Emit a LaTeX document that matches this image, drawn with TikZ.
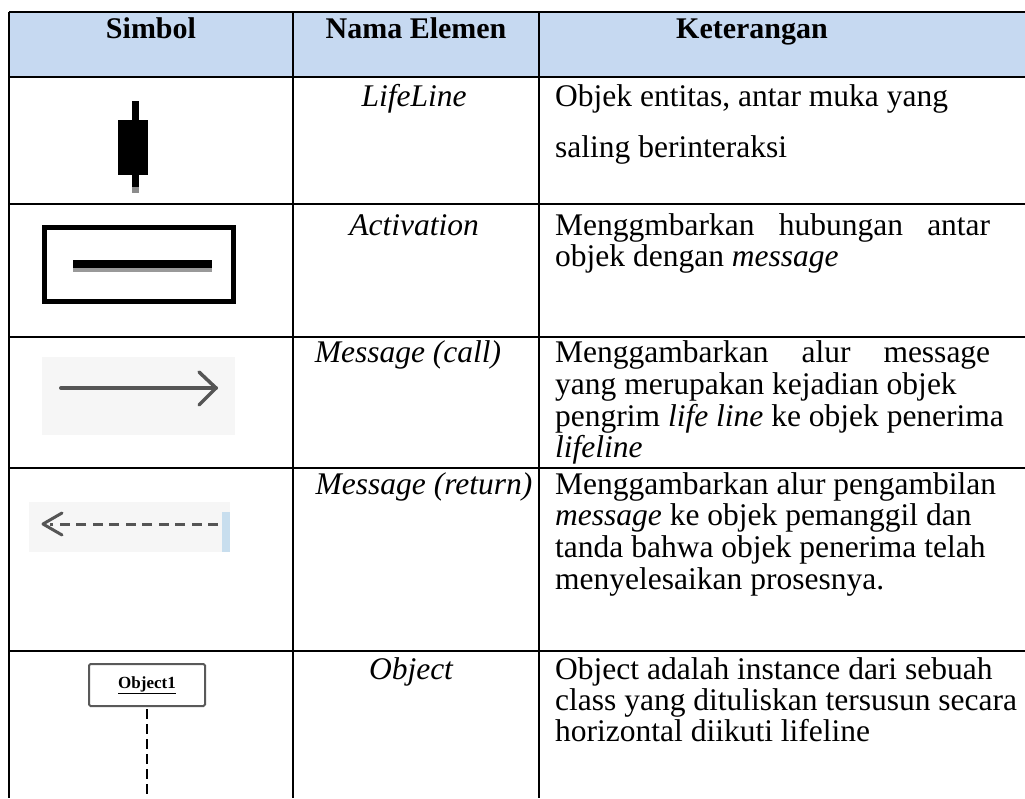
\documentclass[tikz,border=0pt]{standalone}
\usepackage{fontspec}
\setmainfont{Liberation Serif}
\usetikzlibrary{arrows.meta}

\definecolor{headblue}{RGB}{198,217,241}
\definecolor{icongrey}{RGB}{85,85,85}
\definecolor{iconbg}{RGB}{246,246,246}
\definecolor{stripblue}{RGB}{200,222,238}

\begin{document}
\begin{tikzpicture}[x=1pt,y=-1pt,
  rule/.style={line width=1.8pt,black},
  hdr/.style={font=\fontsize{30}{34}\selectfont\bfseries,anchor=base,inner sep=0pt},
  elname/.style={font=\fontsize{31.5}{32}\selectfont\itshape,anchor=base,inner sep=0pt},
  desc/.style={font=\fontsize{31.5}{32}\selectfont,anchor=base west,inner sep=0pt},
  iconline/.style={line width=4pt,icongrey,line cap=round}]
\useasboundingbox (0,0) rectangle (1025,798);

% header band
\fill[headblue] (9,12) rectangle (1025,77);

% table rules
\foreach \yy in {12,77,204,337,468,651}
  \draw[rule] (9,\yy) -- (1025,\yy);
\foreach \xx in {9,293,539}
  \draw[rule] (\xx,12) -- (\xx,798);

% header texts
\node[hdr] (hSym)  at (151,38) {Simbol};
\node[hdr] (hName) at (416,38) {Nama Elemen};
\node[hdr] (hDesc) at (752,38) {Keterangan};

% ---- LifeLine
\fill[black!45] (132,186) rectangle (139,193);
\fill[black] (132,101) rectangle (139,187);
\fill[black] (118,120) rectangle (148,175);
\node[elname] (n1) at (414,106) {LifeLine};
\node[desc] (d1a) at (555,106) {Objek entitas, antar muka yang};
\node[desc] (d1b) at (555,157) {saling berinteraksi};

% ---- Activation
\draw[line width=5pt] (44.5,227.5) rectangle (233.5,301.5);
\fill[black!40] (73,266) rectangle (212,272);
\fill[black] (73,260) rectangle (212,268);
\node[elname] (n2) at (414,235) {Activation};
\node[desc] (d2a) at (555,235) {\makebox[435pt][l]{Menggmbarkan\hfill hubungan\hfill antar}};
\node[desc] (d2b) at (555,266) {objek dengan \textit{message}};

% ---- Message (call)
\fill[iconbg] (42,357) rectangle (235,435);
\coordinate (c1) at (61,388);
\coordinate (c2) at (216,388);
\coordinate (c2a) at (199,372);
\coordinate (c2b) at (199,405);
\draw[iconline] (c1) -- (c2);
\draw[iconline,line width=3.5pt,line join=round] (c2a) -- (c2) -- (c2b);
\node[elname] (n3) at (408,362) {Message (call)};
\node[desc] (d3a) at (555,362) {\makebox[435pt][l]{Menggambarkan\hfill alur\hfill message}};
\node[desc] (d3b) at (555,394) {yang merupakan kejadian objek};
\node[desc] (d3c) at (555,426) {pengrim \textit{life line} ke objek penerima};
\node[desc] (d3d) at (555,457) {\textit{lifeline}};

% ---- Message (return)
\fill[iconbg] (29,502) rectangle (230,552);
\fill[stripblue] (222,512) rectangle (230,552);
\coordinate (r1) at (218,524);
\coordinate (r2) at (43,524);
\coordinate (r2a) at (62,513);
\coordinate (r2b) at (62,535);
\draw[line width=3pt,icongrey,dash pattern=on 10pt off 6.5pt] (r1) -- (50,524);
\draw[line width=3pt,icongrey,line cap=round,line join=round] (r2a) -- (r2) -- (r2b);
\node[elname] (n4) at (424,494) {Message (return)};
\node[desc] (d4a) at (555,494) {Menggambarkan alur pengambilan};
\node[desc] (d4b) at (555,525) {\textit{message} ke objek pemanggil dan};
\node[desc] (d4c) at (555,557) {tanda bahwa objek penerima telah};
\node[desc] (d4d) at (555,589) {menyelesaikan prosesnya.};

% ---- Object
\node[draw=black!65,line width=2pt,rounded corners=1.5pt,minimum width=116pt,minimum height=42pt,
      inner sep=0pt,font=\fontsize{17}{19}\selectfont\bfseries] (obj) at (147,685)
      {\underline{Object1}};
\coordinate (objEnd) at (147,798);
\draw[line width=2pt,dash pattern=on 10pt off 5pt] (obj.south) ++(0,2) -- (objEnd);
\node[elname] (n5) at (411,679) {Object};
\node[desc] (d5a) at (555,679) {Object adalah instance dari sebuah};
\node[desc] (d5b) at (555,710) {class yang dituliskan tersusun secara};
\node[desc] (d5c) at (555,741) {horizontal diikuti lifeline};
\end{tikzpicture}
\end{document}
